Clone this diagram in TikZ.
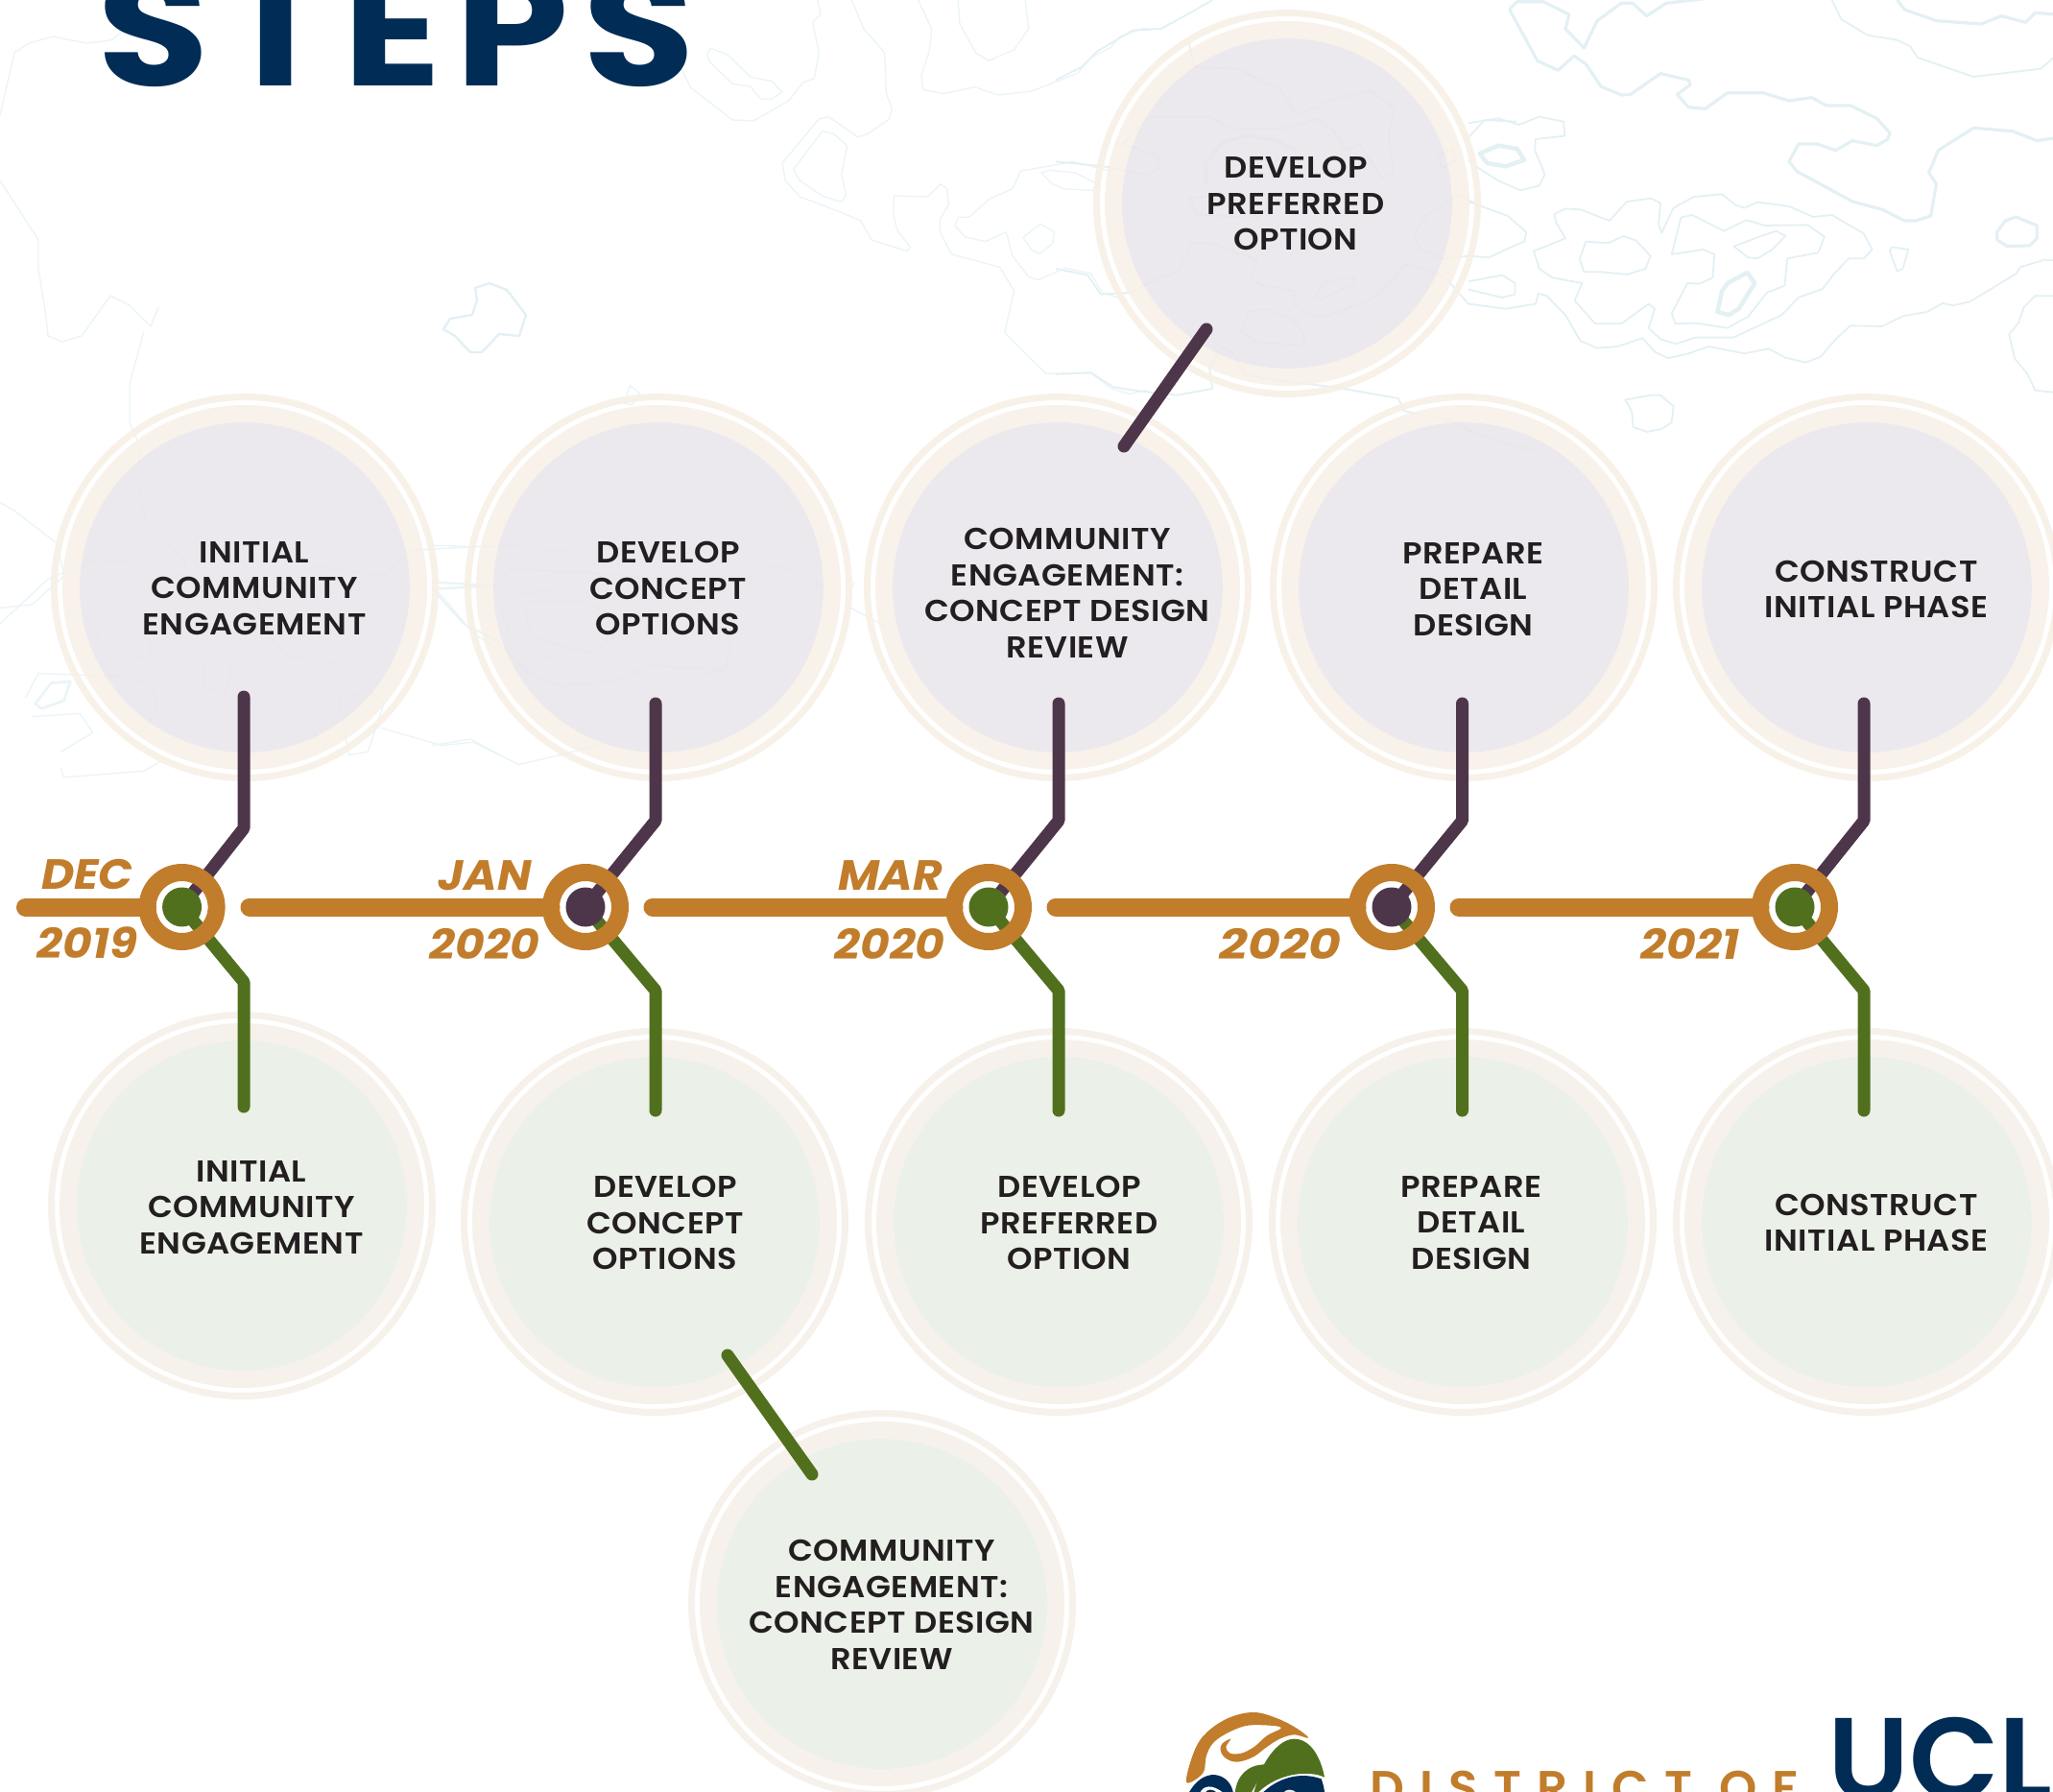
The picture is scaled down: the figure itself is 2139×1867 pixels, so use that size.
\documentclass[tikz,border=0pt]{standalone}
\usepackage{fontspec}
\setmainfont{Poppins}[UprightFont=* SemiBold,BoldFont=* Bold,ItalicFont=* SemiBold Italic,BoldItalicFont=* Bold Italic]
\newfontfamily\labfont{Poppins}[UprightFont=* SemiBold,FakeStretch=1.07,LetterSpace=1.5]
\newfontfamily\datefont{Poppins}[UprightFont=* Bold Italic,FakeStretch=1.07]
\newfontfamily\titlefont{Poppins}[UprightFont=* Bold,FakeStretch=1.15,LetterSpace=8.5]
\definecolor{gold}{HTML}{C17D2B}
\definecolor{plum}{HTML}{4E364A}
\definecolor{leaf}{HTML}{51701E}
\definecolor{navy}{HTML}{012C56}
\definecolor{ink}{HTML}{231F20}
\definecolor{contour}{HTML}{E3F0F4}
\definecolor{creamband}{HTML}{F7F0E6}
\definecolor{plumfill}{HTML}{E9E5EB}
\definecolor{leaffill}{HTML}{E9EEE5}
\definecolor{creamgreen}{HTML}{F5EFE8}
\tikzset{
  cline/.style={draw=contour,line width=1.8pt,line join=round},
  cfaint/.style={draw=contour!70,line width=1.4pt,line join=round},
  cthick/.style={draw=contour,line width=3.2pt,line join=round},
  plumdisc/.style={circle,draw=none,fill=plumfill,fill opacity=.86,minimum size=344pt,inner sep=0pt},
  leafdisc/.style={circle,draw=none,fill=leaffill,fill opacity=.9,minimum size=344pt,inner sep=0pt},
  labeltext/.style={text=ink,align=center,inner sep=0pt,font=\labfont\fontsize{31.5}{37.5}\selectfont},
  datetext/.style={text=gold,inner sep=0pt,anchor=base,font=\datefont\fontsize{44}{44}\selectfont},
  timebar/.style={draw=gold,line width=19pt,line cap=round},
  plumline/.style={draw=plum,line width=13pt,line cap=round,line join=round},
  leafline/.style={draw=leaf,line width=13pt,line cap=round,line join=round},
  hubring/.style={circle,draw=gold,line width=18pt,minimum size=72pt,inner sep=0pt},
  hubdisc/.style={circle,minimum size=41pt,inner sep=0pt},
  zsix/.style={shift={(1530,0)},xscale=.3884,yscale=.3333},
  znine/.style={shift={(700,0)},scale=.3333},
  zfour/.style={shift={(1100,0)},scale=.3333},
  zseven/.style={shift={(0,400)},scale=.3333},
  zeight/.style={shift={(450,400)},scale=.3333},
  zlogo/.style={shift={(1220,1770)},scale=.3333},
}
\begin{document}
\begin{tikzpicture}[x=1pt,y=-1pt]
\useasboundingbox (0,0) rectangle (2139,1867);
\clip (0,0) rectangle (2139,1867);
% ---- background contours
\begin{scope}[zsix]
\draw[cthick] (110,30)--(130,5)--(200,5)--(270,45)--(260,90)--(310,150)--(345,65)--(410,10)--(440,10)--(478,50)--(530,10)--(640,-5);
\draw[cthick] (110,30)--(185,190)--(240,220)--(283,175)--(315,200)--(355,270)--(410,297)--(435,295)--(515,230)--(590,250)--(595,265)--(560,295)--(590,335)--(635,340)--(695,290)--(790,290)--(860,315)--(920,305)--(960,330)--(1025,330)--(1095,370)--(1130,415)--(1125,435)--(1095,455)--(1030,440)--(985,470)--(935,450)--(885,450)--(860,505)--(880,535)--(1030,630)--(1110,655)--(1170,690)--(1200,690)--(1240,675)--(1255,575)--(1235,540)--(1260,470)--(1355,400)--(1460,410)--(1525,440)--(1580,430);
\draw[cline] (975,0)--(1000,60)--(1070,110)--(1150,125)--(1185,145)--(1205,180)--(1355,240)--(1535,215)--(1580,170);
\draw[cthick] (1150,0)--(1170,30)--(1255,65)--(1375,75)--(1430,50)--(1495,70)--(1520,40)--(1580,45);
\draw[cline] (0,385)--(80,370)--(135,390)--(190,365)--(255,380)--(258,425)--(180,435)--(178,470)--(205,545)--(190,580)--(140,595)--(80,565)--(20,520)--(0,500);
\draw[cthick,line width=4.5pt] (30,480)--(80,455)--(130,465)--(150,500)--(100,520)--(50,510)--cycle;
\draw[cline] (0,630)--(105,675)--(155,725)--(150,755)--(100,780)--(55,805)--(0,800);
\draw[cline] (0,880)--(90,860)--(125,885)--(125,920)--(90,930)--(0,905);
\draw[cline] (0,950)--(100,965)--(180,950)--(187,918)--(210,925)--(260,985)--(300,1065)--(345,1088)--(400,1083)--(467,1057)--(500,1100)--(535,1120)--(590,1105)--(645,1083)--(740,1105)--(805,1090)--(850,1118)--(905,1133)--(945,1115)--(985,1060)--(1025,1018)--(1110,1020)--(1165,988)--(1230,975)--(1272,948)--(1300,955)--(1345,943)--(1470,855)--(1480,835)--(1545,812)--(1580,815);
\draw[cline] (230,670)--(260,652)--(300,655)--(378,690)--(425,630)--(490,620)--(515,635)--(510,700)--(518,728)--(550,650)--(605,615)--(680,607)--(715,640)--(740,650)--(775,632)--(860,645)--(925,678)--(975,672)--(1060,730)--(1083,780)--(1060,808)--(1020,808)--(985,850)--(950,903)--(885,930)--(840,985)--(710,1055)--(610,1055)--(555,1075)--(515,1060)--(483,1025)--(500,965)--(483,950)--(410,1012)--(340,1012)--(285,940)--(305,885)--(225,868)--(190,840)--(175,785)--(260,745)--(235,695)--cycle;
\draw[cline] (315,755)--(375,760)--(415,738)--(450,752)--(488,800)--(475,840)--(425,858)--(355,850)--(310,850)--(298,810)--cycle;
\draw[cline] (545,795)--(570,680)--(600,672)--(685,722)--(745,688)--(795,705)--(910,703)--(955,740)--(938,790)--(855,808)--(848,893)--(800,915)--(750,990)--(695,1025)--(610,1010)--(555,1012)--(545,980)--(587,885)--(620,887)--(655,868)--(660,795)--(630,780)--cycle;
\draw[cline] (712,770)--(780,740)--(825,722)--(850,738)--(815,780)--(775,808)--(750,805)--cycle;
\draw[cthick,line width=4.5pt] (695,885)--(748,852)--(768,885)--(725,965)--(698,985)--(668,975)--(680,910)--cycle;
\draw[cline] (1130,785)--(1135,772)--(1180,780)--(1165,840)--(1150,848)--cycle;
\draw[cthick] (1418,725)--(1440,690)--(1468,678)--(1525,705)--(1525,745)--(1505,768)--(1445,770)--(1418,750)--cycle;
\draw[cline] (1580,925)--(1520,925)--(1490,960)--(1475,1010)--(1450,1045)--(1465,1120)--(1500,1170)--(1520,1220)--(1580,1228);
\draw[cline] (420,1250)--(490,1235)--(515,1235)--(550,1270)--(545,1320)--(520,1340)--(480,1350)--(442,1335)--(438,1285)--cycle;
\end{scope}
\begin{scope}[znine]
\draw[cfaint] (30,218)--(60,275)--(190,375)--(255,378)--(365,315)--(410,258)--(445,245)--(460,165)--(440,70)--(465,45)--(455,0);
\draw[cfaint] (120,150)--(175,172)--(245,240)--(315,255)--(345,288)--(310,310)--(278,310)--(245,270)--(190,262)--(120,195)--(110,172)--cycle;
\draw[cfaint] (562,0)--(600,90)--(665,165)--(670,290)--(688,340)--(680,372)--(610,420)--(580,428)--(490,365)--(460,372)--(345,510)--(355,565)--(400,615)--(520,660)--(590,690)--(625,750)--(735,785)--(745,772)--(705,720)--(692,670)--(695,612)--(800,615)--(840,575)--(860,590)--(865,640)--(838,685)--(838,725)--(875,795)--(1025,835)--(1070,910)--(1040,1040)--(1170,1168)--(1310,1165)--(1370,1213)--(1430,1232)--(1480,1220)--(1560,1250);
\draw[cfaint] (470,410)--(505,418)--(548,455)--(530,545)--(545,610)--(530,632)--(470,612)--(400,565)--(380,530)--cycle;
\draw[cfaint] (770,0)--(812,90)--(805,160)--(780,235)--(785,280)--(850,293)--(945,272)--(1020,297)--(1125,285)--(1270,228)--(1310,180)--(1370,150)--(1400,115)--(1470,90)--(1530,90)--(1560,70);
\draw[cfaint] (895,0)--(900,75)--(950,165)--(990,190)--(1070,155)--(1115,90)--(1105,0);
\draw[cfaint] (885,705)--(895,680)--(930,678)--(995,620)--(1065,590)--(1090,535)--(1255,505)--(1375,535);
\draw[cfaint] (1155,540)--(1180,532)--(1260,540)--(1330,575)--(1315,595)--(1225,590)--(1190,575)--cycle;
\draw[cfaint] (885,705)--(915,740)--(980,755)--(1045,725)--(1065,800)--(1115,865)--(1145,875)--(1230,838)--(1310,855)--(1345,915)--(1395,930);
\draw[cfaint] (1098,742)--(1152,700)--(1195,725)--(1190,762)--(1150,792)--(1125,782)--cycle;
\end{scope}
\begin{scope}[zfour]
\draw[cline] (0,250)--(80,210)--(130,160)--(240,95)--(330,90)--(420,40)--(490,0);
\draw[cline] (415,130)--(435,210)--(570,215)--(650,255)--(700,275)--(755,360)--(870,310)--(985,285)--(1060,340)--(1040,420)--(1055,540)--(1020,555)--(950,450)--(905,470)--(870,410)--(820,372)--(720,400)--(550,405)--(480,365)--(290,365)--(210,450)--(270,470)--(320,490)--(320,530)--(280,545)--(150,520)--(0,505);
\draw[cline] (0,840)--(100,860)--(140,920)--(230,915)--(300,880)--(380,850)--(410,790)--(420,760)--(490,760)--(630,815)--(610,870)--(640,890)--(745,910)--(745,955)--(800,985)--(850,990)--(930,955)--(1000,930)--(1050,880)--(1090,825)--(1170,845)--(1220,870)--(1290,950);
\draw[cline] (580,1040)--(600,975)--(660,965)--(740,1000)--(780,1050)--(770,1080)--(630,1070)--cycle;
\draw[cline] (810,925)--(840,885)--(935,865)--(930,890)--(830,935)--cycle;
\draw[cline] (0,1170)--(110,1165)--(180,1210)--(280,1225)--(380,1235)--(490,1215)--(480,1150)--(520,1085)--(550,1100)--(590,1170)--(700,1190)--(870,1210)--(1070,1245)--(1090,1285)--(1220,1310)--(1350,1370)--(1500,1410);
\draw[cthick] (470,580)--(470,510)--(520,445)--(600,425)--(690,440)--(755,470);
\draw[cline] (420,620)--(480,612)--(640,680)--(590,680)--(440,670)--cycle;
\draw[cline] (1190,490)--(1240,465)--(1250,500)--(1210,525)--cycle;
\draw[cline] (1290,430)--(1340,375)--(1440,380);
\draw[cline] (1120,730)--(1160,670)--(1260,610)--(1340,650);
\draw[cline] (1120,730)--(1140,780)--(1210,810)--(1290,800);
\end{scope}
\begin{scope}[zseven]
\draw[cfaint] (405,0)--(405,120)--(435,190)--(435,330)--(460,450)--(580,550)--(580,590)--(500,620);
\draw[cfaint] (0,370)--(50,400)--(180,500)--(200,600)--(100,690)--(0,700);
\draw[cfaint] (0,750)--(150,610)--(300,550)--(440,560)--(530,620);
\draw[cfaint] (880,600)--(1000,570)--(1200,600)--(1280,520)--(1560,505);
\draw[cfaint,line width=2.8pt] (1370,640)--(1560,630);
\draw[cfaint] (1370,650)--(1480,780)--(1560,830);
\draw[cfaint] (800,680)--(850,800)--(900,850)--(1080,880)--(1200,950);
\draw[cfaint] (300,770)--(340,760)--(470,800)--(470,850)--(380,865)--(310,800)--cycle;
\draw[cfaint] (640,860)--(690,830)--(725,900)--(700,970)--(640,950)--cycle;
\draw[cfaint,line width=2.8pt] (110,1000)--(160,935)--(220,930)--(200,990)--(130,1015)--cycle;
\draw[cfaint] (80,980)--(120,905)--(400,915)--(480,950)--(490,1030)--(440,1090);
\draw[cfaint] (190,1150)--(290,1090)--(250,1030)--(100,1040);
\draw[cfaint] (190,1200)--(200,1230)--(450,1210)--(500,1180);
\draw[cfaint] (1190,1075)--(1380,1130)--(1480,1120)--(1560,1160);
\draw[cfaint] (1060,980)--(1160,960)--(1200,1000)--(1150,1150)--(1090,1160)--cycle;
\draw[cfaint] (940,1050)--(990,1100)--(950,1130);
\end{scope}
\begin{scope}[zeight]
\draw[cfaint] (0,505)--(200,510)--(250,500)--(380,525)--(500,510)--(700,520)--(760,550);
\draw[cfaint,line width=2.2pt] (290,690)--(330,675)--(470,680)--(560,720)--(570,790)--(510,840)--(410,820)--(320,790)--(300,750)--cycle;
\draw[cfaint] (215,720)--(250,660)--(420,640)--(560,650)--(650,720)--(690,800)--(640,860)--(470,870)--(330,850)--(260,810)--cycle;
\draw[cfaint,line width=2.2pt] (0,620)--(200,630)--(250,580)--(480,590)--(720,610)--(880,700)--(935,810)--(920,890)--(820,890)--(690,880)--(560,930)--(400,945)--(300,900)--(200,800)--(100,750)--(0,640);
\draw[cfaint] (550,1120)--(740,1010)--(830,910)--(920,890);
\draw[cfaint] (0,1130)--(120,1110)--(270,1190)--(400,1160)--(550,1120);
\draw[cfaint] (600,60)--(620,5)--(650,30)--(625,65)--cycle;
\draw[cfaint] (960,555)--(1130,580)--(1220,630)--(1130,665)--(1050,640)--(990,600);
\draw[cfaint] (1310,640)--(1320,620);
\draw[cfaint] (1310,700)--(1420,760);
\end{scope}
\draw[cline,line width=2.4pt] (462,343)--(469,332)--(492,328)--(497,313)--(495,300)--(510,295)--(528,302)--(548,328)--(541,350)--(520,348)--(502,367)--(490,367)--(474,350)--cycle;
\draw[cfaint] (0,188)--(40,250)--(40,280)--(48,330)--(50,350)--(65,356)--(85,350)--(115,308)--(135,318)--(157,340)--(165,320);
\draw[cfaint] (150,345)--(135,400);
\draw[cfaint] (0,120)--(15,55)--(30,45)--(55,38)--(90,45)--(115,42)--(135,28);
% ---- title
\node[inner sep=0pt,anchor=base west,text=navy,font=\titlefont\fontsize{165}{165}\selectfont] (title) at (101,90) {STEPS};
% ---- step discs
\newcommand{\stepdisc}[5]{%
  \draw[#4,line width=7pt,opacity=.9] (#1,#2) circle[radius=198.5];
  \draw[#4,line width=18pt,opacity=.85] (#1,#2) circle[radius=181];
  \node[#3] (#5) at (#1,#2) {};
}
\stepdisc{255}{612}{plumdisc}{creamband}{dt1}
\stepdisc{686}{612}{plumdisc}{creamband}{dt2}
\stepdisc{1102}{612}{plumdisc}{creamband}{dt3}
\stepdisc{1525}{612}{plumdisc}{creamband}{dt4}
\stepdisc{1945}{612}{plumdisc}{creamband}{dt5}
\stepdisc{1341}{212}{plumdisc}{creamband}{dtx}
\stepdisc{252}{1256}{leafdisc}{creamgreen}{db1}
\stepdisc{682}{1273}{leafdisc}{creamgreen}{db2}
\stepdisc{1103}{1273}{leafdisc}{creamgreen}{db3}
\stepdisc{1524}{1273}{leafdisc}{creamgreen}{db4}
\stepdisc{1945}{1273}{leafdisc}{creamgreen}{db5}
\stepdisc{919}{1671}{leafdisc}{creamgreen}{dbx}
% ---- disc labels
\node[labeltext] (lt1) at (265,613) {INITIAL\\COMMUNITY\\ENGAGEMENT};
\node[labeltext] (lt2) at (696,613) {DEVELOP\\CONCEPT\\OPTIONS};
\node[labeltext] (lt3) at (1112,618) {COMMUNITY\\ENGAGEMENT:\\CONCEPT DESIGN\\REVIEW};
\node[labeltext] (lt4) at (1535,614) {PREPARE\\DETAIL\\DESIGN};
\node[labeltext] (lt5) at (1955,614) {CONSTRUCT\\INITIAL PHASE};
\node[labeltext] (ltx) at (1350,212) {DEVELOP\\PREFERRED\\OPTION};
\node[labeltext] (lb1) at (262,1258) {INITIAL\\COMMUNITY\\ENGAGEMENT};
\node[labeltext] (lb2) at (693,1274) {DEVELOP\\CONCEPT\\OPTIONS};
\node[labeltext] (lb3) at (1114,1274) {DEVELOP\\PREFERRED\\OPTION};
\node[labeltext] (lb4) at (1533,1274) {PREPARE\\DETAIL\\DESIGN};
\node[labeltext] (lb5) at (1955,1274) {CONSTRUCT\\INITIAL PHASE};
\node[labeltext] (lbx) at (929,1672) {COMMUNITY\\ENGAGEMENT:\\CONCEPT DESIGN\\REVIEW};
% ---- timeline
\foreach \i/\cx in {1/189.6,2/610,3/1030,4/1450,5/1870}{
  \coordinate (c\i) at (\cx,945);
  \coordinate (barend\i) at (\cx-36,945);
}
\coordinate (barstart1) at (26.5,945);
\coordinate (barstart2) at (260,945);
\coordinate (barstart3) at (680,945);
\coordinate (barstart4) at (1100,945);
\coordinate (barstart5) at (1520,945);
\foreach \i in {1,...,5}{\draw[timebar] (barstart\i) -- (barend\i);}
% connectors
\foreach \i/\vx/\bt/\et/\bb/\eb in {1/254/863/726/1023/1153,2/683/855/733/1032/1157,3/1103/855/733/1032/1157,4/1523.5/855/733/1032/1157,5/1942/855/733/1032/1157}{
  \coordinate (tbend\i) at (\vx,\bt);
  \coordinate (ttip\i) at (\vx,\et);
  \coordinate (bbend\i) at (\vx,\bb);
  \coordinate (btip\i) at (\vx,\eb);
  \draw[plumline] (c\i) -- (tbend\i) -- (ttip\i);
  \draw[leafline] (c\i) -- (bbend\i) -- (btip\i);
}
\foreach \i/\col in {1/leaf,2/plum,3/leaf,4/plum,5/leaf}{
  \node[hubdisc,fill=\col] (hubdisc\i) at (c\i) {};
  \node[hubring] (hub\i) at (c\i) {};
}
% diagonal connectors
\coordinate (xta) at (1171,465);
\coordinate (xtb) at (1257,343);
\coordinate (xba) at (758,1412);
\coordinate (xbb) at (846,1536);
\draw[plumline] (xta) -- (xtb);
\draw[leafline] (xba) -- (xbb);
% date labels
\node[datetext] (d1a) at (91,926) {DEC};
\node[datetext] (d1b) at (91,998) {2019};
\node[datetext] (d2a) at (505,927) {JAN};
\node[datetext] (d2b) at (505,999) {2020};
\node[datetext] (d3a) at (928,927) {MAR};
\node[datetext] (d3b) at (927,999) {2020};
\node[datetext,xscale=1.1] (d4b) at (1334,999) {2020};
\node[datetext] (d5b) at (1761,999) {2021};
% ---- logo
\begin{scope}[zlogo]
\fill[gold] plot[smooth cycle,tension=.6] coordinates {(50,262)(60,200)(90,130)(140,82)(200,52)(265,42)(330,60)(390,90)(430,122)(385,112)(340,125)(300,150)(260,180)(220,195)(190,195)(165,180)(155,160)(160,140)(187,125)(172,150)(185,170)(220,170)(260,150)(300,115)(345,90)(290,82)(230,85)(170,110)(130,140)(110,180)(100,232)};
\fill[leaf] (275,240) .. controls (295,185) and (340,125) .. (385,125) .. controls (440,125) and (470,190) .. (480,245) .. controls (440,225) and (340,225) .. (270,295) -- (258,295) -- cycle;
\fill[leaf] (200,295) .. controls (205,240) and (240,205) .. (295,205) .. controls (280,240) and (265,270) .. (250,295) -- cycle;
\fill[navy] (55,295) .. controls (80,250) and (110,237) .. (135,237) .. controls (170,240) and (190,265) .. (195,295) -- cycle;
\fill[white] (90,295) .. controls (100,270) and (130,265) .. (165,295) -- cycle;
\fill[navy] (105,295) .. controls (115,280) and (130,280) .. (145,295) -- cycle;
\fill[navy] (285,295) .. controls (330,250) and (400,225) .. (470,250) .. controls (475,265) and (480,280) .. (480,295) -- cycle;
\fill[white!70!navy!30] (350,295) .. controls (360,280) and (380,280) .. (395,295) -- cycle;
\end{scope}
\node[inner sep=0pt,anchor=base west,text=gold,font=\fontsize{50}{50}\selectfont] (district) at (1427,1880) {\addfontfeature{LetterSpace=32.5}DISTRICT OF};
\node[inner sep=0pt,anchor=base west,text=navy,font=\fontsize{122}{122}\selectfont] (ucl) at (1904,1875) {UCL};
\end{tikzpicture}
\end{document}
